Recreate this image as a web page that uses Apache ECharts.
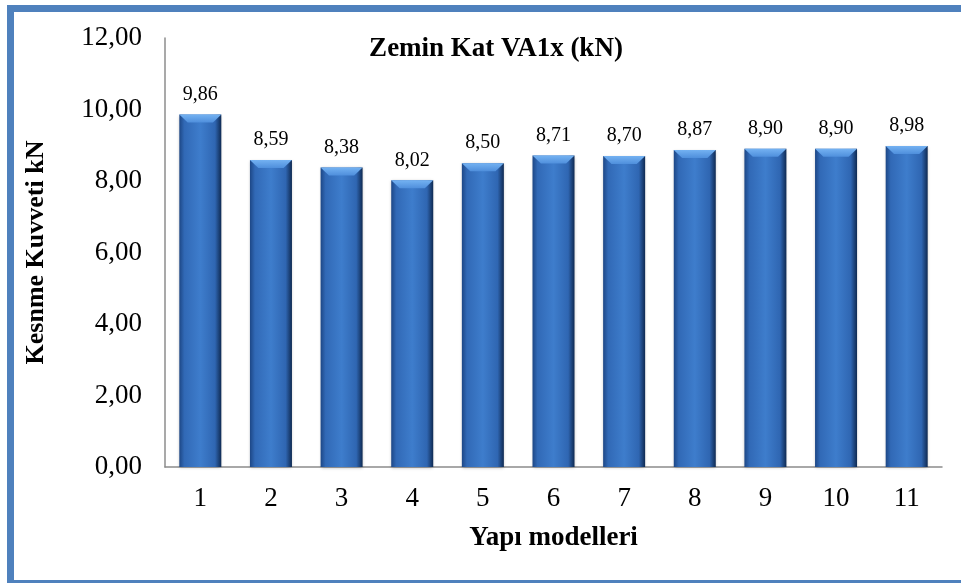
<!DOCTYPE html>
<html>
<head>
<meta charset="utf-8">
<script src="https://cdn.jsdelivr.net/npm/echarts@6/dist/echarts.min.js"></script>
<style>
  html, body { margin: 0; padding: 0; background: #fff; }
  #main { width: 961px; height: 583px; }
</style>
</head>
<body>
<div id="main"></div>
<script>
// veriler
var modeller = ['1', '2', '3', '4', '5', '6', '7', '8', '9', '10', '11'];
var kesmeKuvveti = [9.86, 8.59, 8.38, 8.02, 8.50, 8.71, 8.70, 8.87, 8.90, 8.90, 8.98];

var yazi = '"Liberation Serif", "Times New Roman", serif';

function virgul(v) {
  return v.toFixed(2).replace('.', ',');
}

var chart = echarts.init(document.getElementById('main'), null, { renderer: 'canvas' });

var option = {
  backgroundColor: '#ffffff',
  animation: false,
  title: {
    text: 'Zemin Kat VA1x (kN)',
    left: 491,
    top: 31,
    textAlign: 'center',
    textStyle: { fontFamily: yazi, fontWeight: 'bold', fontSize: 27, color: '#000' }
  },
  grid: { left: 165, right: 19, top: 38, bottom: 116 },
  xAxis: {
    type: 'category',
    data: modeller,
    name: 'Yapı modelleri',
    nameLocation: 'middle',
    nameGap: 58,
    nameTextStyle: { fontFamily: yazi, fontWeight: 'bold', fontSize: 27, color: '#000' },
    axisLine: { lineStyle: { color: '#8c8c8c', width: 1.5 } },
    axisTick: { show: false },
    axisLabel: { fontFamily: yazi, fontSize: 27, color: '#000', margin: 18 }
  },
  yAxis: {
    type: 'value',
    min: 0,
    max: 12,
    interval: 2,
    name: 'Kesnme Kuvveti kN',
    nameLocation: 'middle',
    nameGap: 116,
    nameTextStyle: { fontFamily: yazi, fontWeight: 'bold', fontSize: 26, color: '#000' },
    axisLine: { show: true, lineStyle: { color: '#8c8c8c', width: 1.5 } },
    axisTick: { show: false },
    splitLine: { show: false },
    axisLabel: { fontFamily: yazi, fontSize: 27, color: '#000', margin: 23, formatter: virgul }
  },
  series: [{
    type: 'bar',
    data: kesmeKuvveti,
    barWidth: 42,
    z: 2,
    itemStyle: {
      color: new echarts.graphic.LinearGradient(0, 0, 1, 0, [
        { offset: 0, color: '#1d4786' },
        { offset: 0.12, color: '#3169b6' },
        { offset: 0.5, color: '#3e7dcc' },
        { offset: 0.85, color: '#2f66b2' },
        { offset: 1, color: '#0f2a52' }
      ]),
      shadowColor: 'rgba(0,0,0,0.25)',
      shadowBlur: 3,
      shadowOffsetY: 1
    },
    label: {
      show: true,
      position: 'top',
      distance: 10,
      fontFamily: yazi,
      fontSize: 20,
      color: '#000',
      formatter: function (p) { return virgul(p.value); }
    }
  }, {
    // çubuk üstündeki açık renkli pah
    type: 'pictorialBar',
    data: kesmeKuvveti,
    symbol: 'path://M0,0 L100,0 L80,100 L20,100 Z',
    symbolSize: [42, 8],
    symbolPosition: 'end',
    symbolOffset: [0, 0],
    z: 3,
    silent: true,
    itemStyle: {
      color: new echarts.graphic.LinearGradient(0, 0, 0, 1, [
        { offset: 0, color: '#74b2f2' },
        { offset: 1, color: '#4f8fdc' }
      ])
    }
  }],
  graphic: [{
    type: 'rect',
    shape: { x: 10.5, y: 8.5, width: 960, height: 575 },
    style: { fill: 'none', stroke: '#4f81bd', lineWidth: 7 },
    z: 100
  }]
};

chart.setOption(option);
</script>
</body>
</html>
